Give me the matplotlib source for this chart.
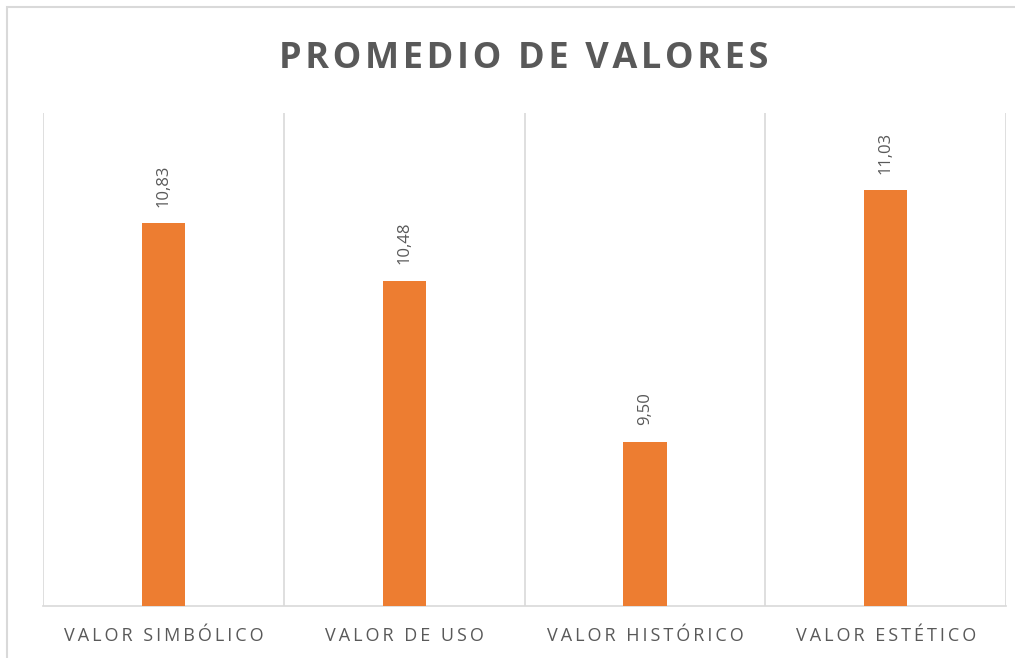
import matplotlib
matplotlib.use("Agg")
import matplotlib.pyplot as plt
import numpy as np

# datos
categorias = ["VALOR SIMBÓLICO", "VALOR DE USO", "VALOR HISTÓRICO", "VALOR ESTÉTICO"]
promedios = [10.83, 10.48, 9.50, 11.03]
etiquetas = ["10,83", "10,48", "9,50", "11,03"]

NARANJA = "#ED7D31"
GRIS_TXT = "#595959"
GRIS_LIN = "#D9D9D9"

plt.rcParams['font.family'] = ['Open Sans', 'DejaVu Sans']


def espaciar(s, sep="\u2009"):
    # simula el espaciado de caracteres de Excel
    return sep.join(s)


fig = plt.figure(figsize=(10.15, 6.58), dpi=100)
ax = fig.add_axes([0.0424, 0.079, 0.9488, 0.749])

x = np.arange(len(categorias))
ax.bar(x, promedios, width=0.18, color=NARANJA, zorder=3)
ax.set_xlim(-0.5, len(categorias) - 0.5)
ax.set_ylim(8.5, 11.5)

for xi, v, t in zip(x, promedios, etiquetas):
    ax.text(xi, v + 0.1, t, rotation=90, ha="center", va="bottom",
            fontsize=12, color=GRIS_TXT)

# separadores de categorias
for b in np.arange(-0.5, len(categorias), 1.0):
    ax.axvline(b, color=GRIS_LIN, lw=1.2, zorder=1)

ax.set_yticks([])
ax.set_xticks(x)
ax.set_xticklabels([espaciar(c) for c in categorias], fontsize=13, color=GRIS_TXT)
ax.tick_params(axis="x", length=0, pad=15)
for s in ["top", "right", "left"]:
    ax.spines[s].set_visible(False)
ax.spines["bottom"].set_color(GRIS_LIN)
ax.spines["bottom"].set_linewidth(1.2)

fig.text(0.516, 0.91, espaciar("PROMEDIO DE VALORES", "\u200a"), ha="center", va="center",
         fontsize=26, fontweight="bold", color=GRIS_TXT)

# borde del grafico
fig.patches.append(plt.Rectangle((0.007, -0.1), 1.1, 1.09, transform=fig.transFigure,
                                 fill=False, edgecolor=GRIS_LIN, lw=1.5))

fig.savefig("out.png", dpi=100)
